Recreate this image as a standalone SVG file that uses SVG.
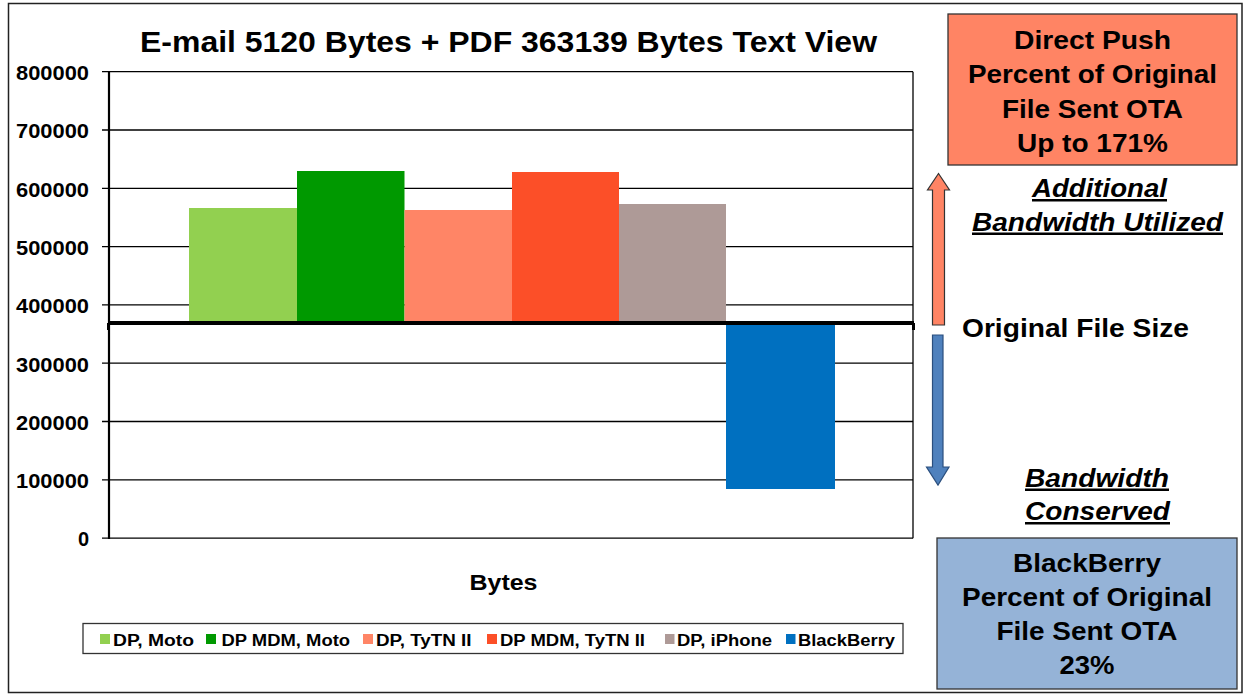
<svg xmlns="http://www.w3.org/2000/svg" width="1249" height="696" viewBox="0 0 1249 696">
<style>
text{font-family:"Liberation Sans",Arial,sans-serif;font-weight:bold;fill:#000}
.yl{font-size:20px;text-anchor:end}
.grid{stroke:#000;stroke-width:1.3}
.lg{font-size:16px}
.bx{font-size:25px;text-anchor:middle}
.it{font-size:25px;font-style:italic;text-anchor:middle;text-decoration:underline}
</style>
<rect x="8.5" y="3.5" width="1233.5" height="689" fill="#fff" stroke="#222" stroke-width="1.5"/>
<text x="508.5" y="52" font-size="29" text-anchor="middle" textLength="737" lengthAdjust="spacingAndGlyphs">E-mail 5120 Bytes + PDF 363139 Bytes Text View</text>
<g id="axes">
<g class="grid">
<line x1="102" y1="71.7" x2="913" y2="71.7"/>
<line x1="102" y1="130" x2="913" y2="130"/>
<line x1="102" y1="188.3" x2="913" y2="188.3"/>
<line x1="102" y1="246.6" x2="913" y2="246.6"/>
<line x1="102" y1="304.9" x2="913" y2="304.9"/>
<line x1="102" y1="363.2" x2="913" y2="363.2"/>
<line x1="102" y1="421.5" x2="913" y2="421.5"/>
<line x1="102" y1="479.8" x2="913" y2="479.8"/>
<line x1="102" y1="538.2" x2="913" y2="538.2"/>
</g>
<line x1="913" y1="71.7" x2="913" y2="538.2" stroke="#000" stroke-width="1.3"/>
<text class="yl" x="89" y="80" textLength="73" lengthAdjust="spacingAndGlyphs">800000</text>
<text class="yl" x="89" y="138.3" textLength="73" lengthAdjust="spacingAndGlyphs">700000</text>
<text class="yl" x="89" y="196.6" textLength="73" lengthAdjust="spacingAndGlyphs">600000</text>
<text class="yl" x="89" y="254.9" textLength="73" lengthAdjust="spacingAndGlyphs">500000</text>
<text class="yl" x="89" y="313.2" textLength="73" lengthAdjust="spacingAndGlyphs">400000</text>
<text class="yl" x="89" y="371.5" textLength="73" lengthAdjust="spacingAndGlyphs">300000</text>
<text class="yl" x="89" y="429.8" textLength="73" lengthAdjust="spacingAndGlyphs">200000</text>
<text class="yl" x="89" y="488.1" textLength="73" lengthAdjust="spacingAndGlyphs">100000</text>
<text class="yl" x="89" y="546.4">0</text>
</g>
<g id="bars">
<rect x="189" y="208" width="108" height="115" fill="#92D050"/>
<rect x="297" y="171" width="107.5" height="152" fill="#009900"/>
<rect x="404.5" y="210" width="107.5" height="113" fill="#FF8566"/>
<rect x="512" y="172" width="107" height="151" fill="#FC4F28"/>
<rect x="619" y="204" width="107" height="119" fill="#AE9A97"/>
<rect x="726" y="323" width="109" height="166" fill="#0070C0"/>
</g>
<line x1="109" y1="71.7" x2="109" y2="539" stroke="#000" stroke-width="2.2"/>
<g id="baseline">
<line x1="109" y1="323" x2="914" y2="323" stroke="#000" stroke-width="4"/>
<rect x="107" y="323" width="3" height="7" fill="#000"/>
<rect x="912" y="323" width="3" height="7" fill="#000"/>
</g>
<text x="503.5" y="590" font-size="22" text-anchor="middle" textLength="68" lengthAdjust="spacingAndGlyphs">Bytes</text>
<g id="legend">
<rect x="83" y="623.5" width="820" height="30" fill="#fff" stroke="#333" stroke-width="1.3"/>
<rect x="100" y="634" width="10" height="10" fill="#92D050"/>
<text class="lg" x="113" y="645.5" textLength="81" lengthAdjust="spacingAndGlyphs">DP, Moto</text>
<rect x="206" y="634" width="10" height="10" fill="#009900"/>
<text class="lg" x="221.5" y="645.5" textLength="128.5" lengthAdjust="spacingAndGlyphs">DP MDM, Moto</text>
<rect x="363" y="634" width="10" height="10" fill="#FF8566"/>
<text class="lg" x="376" y="645.5" textLength="95.5" lengthAdjust="spacingAndGlyphs">DP, TyTN II</text>
<rect x="487" y="634" width="10" height="10" fill="#FC4F28"/>
<text class="lg" x="500" y="645.5" textLength="145" lengthAdjust="spacingAndGlyphs">DP MDM, TyTN II</text>
<rect x="665" y="634" width="9.5" height="10" fill="#AE9A97"/>
<text class="lg" x="677" y="645.5" textLength="95" lengthAdjust="spacingAndGlyphs">DP, iPhone</text>
<rect x="786" y="634" width="9.5" height="10" fill="#0070C0"/>
<text class="lg" x="798" y="645.5" textLength="97" lengthAdjust="spacingAndGlyphs">BlackBerry</text>
</g>
<g id="dp-box">
<rect x="948" y="14" width="289" height="151" fill="#FF8464" stroke="#333" stroke-width="1.3"/>
<text class="bx" x="1092.5" y="49" textLength="157" lengthAdjust="spacingAndGlyphs">Direct Push</text>
<text class="bx" x="1092.5" y="83" textLength="249" lengthAdjust="spacingAndGlyphs">Percent of Original</text>
<text class="bx" x="1092.5" y="117.5" textLength="181" lengthAdjust="spacingAndGlyphs">File Sent OTA</text>
<text class="bx" x="1092.5" y="152" textLength="151" lengthAdjust="spacingAndGlyphs">Up to 171%</text>
</g>
<g id="arrows">
<path d="M932.5,325 V190 H927.5 L938.5,173.5 L949.5,190 H944.5 V325 Z" fill="#FF8464" stroke="#333" stroke-width="1.2"/>
<path d="M932.5,335 H943 V467 H949 L938,485 L926.5,467 H932.5 Z" fill="#4F81BD" stroke="#2B4F7E" stroke-width="1.2"/>
</g>
<g id="labels">
<text x="962" y="336.5" font-size="25" textLength="227" lengthAdjust="spacingAndGlyphs">Original File Size</text>
<text class="it" x="1099.5" y="197" textLength="135" lengthAdjust="spacingAndGlyphs">Additional</text>
<text class="it" x="1097.5" y="230.5" textLength="251" lengthAdjust="spacingAndGlyphs">Bandwidth Utilized</text>
<text class="it" x="1097" y="486.5" textLength="144" lengthAdjust="spacingAndGlyphs">Bandwidth</text>
<text class="it" x="1097.5" y="520" textLength="145" lengthAdjust="spacingAndGlyphs">Conserved</text>
</g>
<g id="bb-box">
<rect x="937" y="538" width="300" height="151" fill="#95B3D7" stroke="#333" stroke-width="1.3"/>
<text class="bx" x="1087" y="572" textLength="148" lengthAdjust="spacingAndGlyphs">BlackBerry</text>
<text class="bx" x="1087" y="605.5" textLength="250" lengthAdjust="spacingAndGlyphs">Percent of Original</text>
<text class="bx" x="1087" y="640" textLength="181" lengthAdjust="spacingAndGlyphs">File Sent OTA</text>
<text class="bx" x="1087" y="673.5" textLength="55" lengthAdjust="spacingAndGlyphs">23%</text>
</g>
</svg>
